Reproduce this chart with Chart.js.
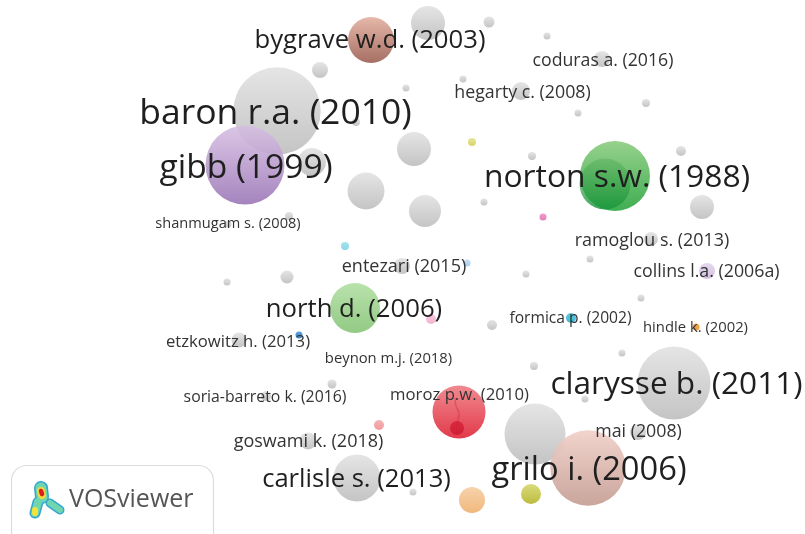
<!DOCTYPE html>
<html>
<head>
<meta charset="utf-8">
<style>
    html, body { margin: 0; padding: 0; background: #fff; overflow: hidden; }
    #map { display: block; filter: blur(0.45px); }
</style>
<script src="https://cdn.jsdelivr.net/npm/chart.js@4"></script>
</head>
<body>
<canvas id="map" width="805" height="534"></canvas>
<script>
// map coordinates (x, y, weight radius, cluster)
const bubbleX = [277, 245, 312, 371, 320, 366, 414, 428, 489, 547, 602, 521, 463, 406, 356, 646, 578, 472, 532, 681, 615, 605, 702, 425, 484, 543, 289, 228, 345, 651, 590, 467, 707, 402, 227, 287, 355, 239, 299, 332, 266, 379, 308, 357, 526, 641, 431, 492, 571, 696, 622, 674, 534, 585, 459, 457, 535, 588, 638, 472, 531, 413];
const bubbleY = [111, 165, 162, 40, 70, 191, 149, 23, 22, 36, 59, 91, 79, 88, 122, 103, 113, 142, 156, 151, 176, 184, 207, 211, 202, 217, 216, 224, 246, 239, 259, 263, 271, 266, 282, 277, 308, 340, 335, 384, 396, 425, 441, 478, 274, 298, 319, 325, 318, 327, 353, 383, 366, 399, 412, 428, 434, 468, 432, 500, 494, 492];
const bubbleR = [43.7, 39.5, 14, 23, 8, 18.5, 17, 17, 5.5, 3.5, 8, 9, 3.5, 3.5, 4, 4, 3.5, 4, 4, 5, 35, 25.5, 12, 16, 3.5, 3.5, 4, 3.5, 4, 7, 3.5, 3.5, 8, 8, 3.5, 6.5, 25, 7.5, 3.5, 4.5, 5, 5, 8.5, 23.5, 3.5, 3.5, 5, 5, 5, 3.5, 3.5, 36.5, 4, 3.5, 26.5, 7, 30.5, 37.7, 8, 13, 10, 3.5];
const bubbleCluster = ['grey', 'purple', 'grey', 'brown', 'grey', 'grey', 'grey', 'grey', 'grey', 'grey', 'grey', 'grey', 'grey', 'grey', 'grey', 'grey', 'grey', 'yellow', 'grey', 'grey', 'green', 'greenDark', 'grey', 'grey', 'grey', 'magenta', 'grey', 'grey', 'cyan', 'grey', 'grey', 'sky', 'lilac', 'grey', 'grey', 'grey', 'lightGreen', 'grey', 'blue', 'grey', 'grey', 'rose', 'grey', 'grey', 'grey', 'grey', 'pink', 'grey', 'teal', 'orange', 'grey', 'grey', 'grey', 'grey', 'red', 'redDark', 'grey', 'salmon', 'grey', 'peach', 'olive', 'grey'];

// labels sit at their own map positions, weight gives the text size
const labelTexts = ['baron r.a. (2010)', 'gibb (1999)', 'bygrave w.d. (2003)', 'norton s.w. (1988)', 'clarysse b. (2011)', 'grilo i. (2006)', 'carlisle s. (2013)', 'north d. (2006)', 'coduras a. (2016)', 'hegarty c. (2008)', 'shanmugam s. (2008)', 'ramoglou s. (2013)', 'collins l.a. (2006a)', 'entezari (2015)', 'formica p. (2002)', 'hindle k. (2002)', 'etzkowitz h. (2013)', 'beynon m.j. (2018)', 'soria-barreto k. (2016)', 'moroz p.w. (2010)', 'goswami k. (2018)', 'mai (2008)'];
const labelX = [275.5, 246, 370, 617, 676.5, 589, 356.5, 354, 603, 522.5, 228, 652, 706.5, 404, 570.5, 695.5, 238, 388.5, 265, 459.5, 308.5, 638.5];
const labelY = [113.5, 168.5, 41, 177.5, 384.5, 470.5, 479.5, 309.5, 61, 93, 224, 241, 272, 267, 319, 328, 342, 359, 397, 395, 442, 432];
const labelWeight = [35.5, 33.6, 25.7, 31.8, 31.6, 32.7, 25.6, 25.7, 17.7, 17.8, 14.6, 17.9, 17.8, 18, 15.6, 14.8, 16.7, 14.8, 15.8, 16.7, 18, 17.8];

// the thin darker trace inside the red bubble
const traceX = [455, 456, 459, 458, 457];
const traceY = [398, 406, 413, 420, 426];

const clusterColors = {
    grey: ['rgba(226,226,226,0.9)', 'rgba(190,190,190,0.9)'],
    purple: ['rgba(214,190,226,0.88)', 'rgba(160,125,186,0.95)'],
    brown: ['#e6b8aa', '#a66f63'],
    green: ['#97d18c', '#3fae52'],
    greenDark: ['rgba(80,170,85,0.4)', 'rgba(25,150,60,0.85)'],
    lightGreen: ['#b9e2ac', '#92ca84'],
    red: ['#f08a90', '#e23a4a'],
    redDark: ['#d92a3f', '#cf1f35'],
    salmon: ['rgba(240,208,200,0.92)', 'rgba(198,160,150,0.95)'],
    peach: ['#f7d2ab', '#f0b97c'],
    olive: ['#dbdb7c', '#bcbc3e'],
    yellow: ['#e6e69a', '#d6d66a'],
    magenta: ['#ef9ccb', '#e77fb8'],
    cyan: ['#a8e2ee', '#8ad6e6'],
    sky: ['#c4dcf4', '#acd0f0'],
    lilac: ['#e4d8ee', '#d4c2e2'],
    blue: ['#5aa0e0', '#3f86cc'],
    rose: ['#f6b4b4', '#f19a9e'],
    pink: ['#f8c8de', '#f2b4d0'],
    teal: ['#5ccae0', '#3fbcd6'],
    orange: ['#f4ac52', '#ee9a38']
};

function bubbleColor(context) {
    if (context.type !== 'data') return '#ccc';
    const raw = context.raw;
    const chart = context.chart;
    const colors = clusterColors[bubbleCluster[context.dataIndex]];
    const py = chart.scales.y.getPixelForValue(raw.y);
    // scales are not laid out yet on the first pass
    if (!Number.isFinite(py)) return colors[0];
    const gradient = chart.ctx.createLinearGradient(0, py - raw.r, 0, py + raw.r);
    gradient.addColorStop(0, colors[0]);
    gradient.addColorStop(1, colors[1]);
    return gradient;
}

const labelsPlugin = {
    id: 'mapLabels',
    afterDatasetsDraw(chart) {
        const ctx = chart.ctx;
        ctx.save();
        ctx.textAlign = 'center';
        ctx.textBaseline = 'middle';
        labelTexts.forEach((text, i) => {
            ctx.font = `${labelWeight[i]}px "Open Sans"`;
            ctx.fillStyle = labelWeight[i] > 20 ? '#1f1f1f' : '#333';
            ctx.fillText(text, chart.scales.x.getPixelForValue(labelX[i]), chart.scales.y.getPixelForValue(labelY[i]));
        });
        ctx.restore();
    }
};

function heatStroke(ctx, points, width, color) {
    ctx.strokeStyle = color;
    ctx.lineWidth = width;
    ctx.beginPath();
    points.forEach((p, i) => {
        if (i === 0) ctx.moveTo(p[0], p[1]);
        else ctx.lineTo(p[0], p[1]);
    });
    ctx.stroke();
}

const logoPlugin = {
    id: 'vosLogo',
    afterDraw(chart) {
        const ctx = chart.ctx;
        ctx.save();
        ctx.beginPath();
        ctx.roundRect(11.5, 465.5, 202, 90, 15);
        ctx.fillStyle = 'rgba(255,255,255,0.9)';
        ctx.fill();
        ctx.strokeStyle = '#dcdcdc';
        ctx.lineWidth = 1.2;
        ctx.stroke();

        ctx.lineCap = 'round';
        ctx.lineJoin = 'round';
        const top = [[41, 488], [42, 497]];
        const low = [[38, 502], [35, 513]];
        const right = [[50, 503], [60, 510]];
        heatStroke(ctx, top, 14, '#35a6cf');
        heatStroke(ctx, low, 11, '#35a6cf');
        heatStroke(ctx, right, 9, '#35a6cf');
        heatStroke(ctx, top, 11, '#6fd6b0');
        heatStroke(ctx, low, 8, '#6fd6b0');
        heatStroke(ctx, right, 6, '#6fd6b0');
        heatStroke(ctx, [[41, 491], [42, 495]], 8, '#f0d840');
        heatStroke(ctx, [[35, 510], [35, 513]], 6, '#f2e23c');
        heatStroke(ctx, [[41, 491], [42, 494]], 4.5, '#d81f1f');

        ctx.font = '25px "Open Sans"';
        ctx.textAlign = 'left';
        ctx.textBaseline = 'middle';
        ctx.fillStyle = '#555';
        ctx.fillText('VOSviewer', 69, 500);
        ctx.restore();
    }
};

const bubbleData = bubbleX.map((x, i) => ({ x: x, y: bubbleY[i], r: bubbleR[i] }));
const traceData = traceX.map((x, i) => ({ x: x, y: traceY[i] }));

document.fonts.load('20px "Open Sans"').finally(() => {
    new Chart(document.getElementById('map').getContext('2d'), {
        type: 'bubble',
        data: {
            datasets: [
                {
                    data: bubbleData,
                    backgroundColor: bubbleColor,
                    borderWidth: 0,
                    hoverBorderWidth: 0,
                    clip: false,
                    order: 2
                },
                {
                    type: 'line',
                    data: traceData,
                    borderColor: 'rgba(205,30,55,0.35)',
                    borderWidth: 1.5,
                    tension: 0.4,
                    pointRadius: 0,
                    order: 1
                }
            ]
        },
        options: {
            responsive: false,
            animation: false,
            events: [],
            layout: { padding: 0, autoPadding: false },
            plugins: {
                legend: { display: false },
                tooltip: { enabled: false }
            },
            scales: {
                x: { type: 'linear', min: 0, max: 805, display: false },
                y: { type: 'linear', min: 0, max: 534, reverse: true, display: false }
            }
        },
        plugins: [labelsPlugin, logoPlugin]
    });
});
</script>
</body>
</html>
